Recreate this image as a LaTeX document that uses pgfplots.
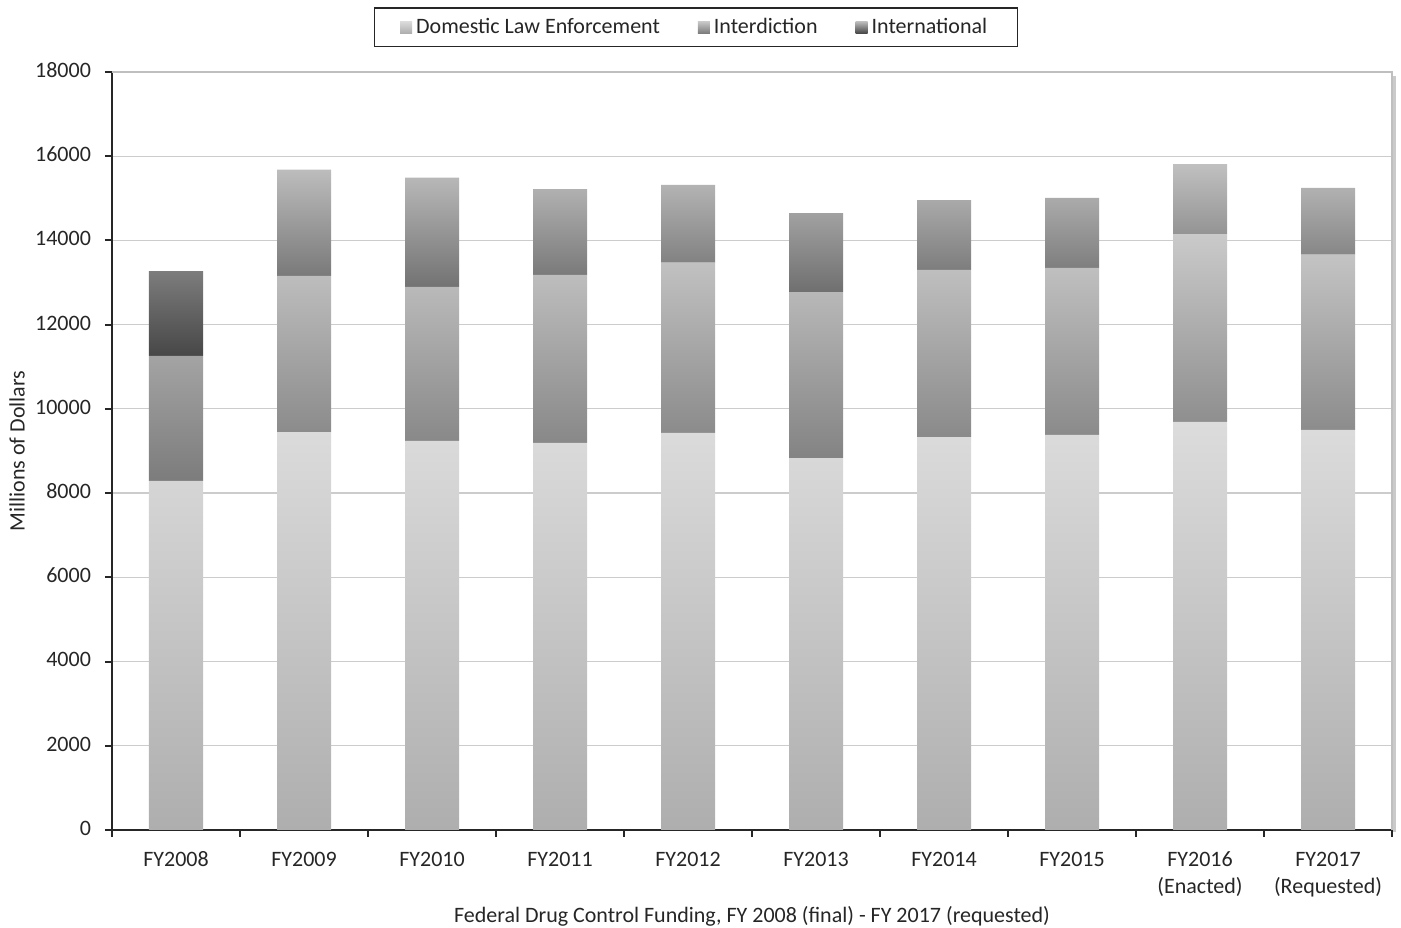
\documentclass[border=0pt]{standalone}
\usepackage{fontspec}
\setmainfont{Carlito}
\usepackage{pgfplots}
\usepackage{pgfplotstable}
\pgfplotsset{compat=1.18}

\definecolor{txt}{HTML}{262626}
\definecolor{domtop}{HTML}{DCDCDC}
\definecolor{dombot}{HTML}{AEAEAE}
\definecolor{inttop}{HTML}{CACACA}
\definecolor{intbot}{HTML}{7C7C7C}
\definecolor{glotop}{HTML}{C0C0C0}
\definecolor{globot}{HTML}{474747}

% one named shading per series (light at top, dark at bottom)
\pgfdeclareverticalshading{domshade}{100bp}{color(0bp)=(dombot); color(25bp)=(dombot); color(75bp)=(domtop); color(100bp)=(domtop)}
\pgfdeclareverticalshading{intshade}{100bp}{color(0bp)=(intbot); color(25bp)=(intbot); color(75bp)=(inttop); color(100bp)=(inttop)}
\pgfdeclareverticalshading{gloshade}{100bp}{color(0bp)=(globot); color(25bp)=(globot); color(75bp)=(glotop); color(100bp)=(glotop)}

% funding in millions of dollars
\pgfplotstableread{
x dom inter intl
0 8290 2970 2010
1 9450 3710 2520
2 9240 3660 2590
3 9190 3990 2040
4 9430 4040 1850
5 8830 3940 1880
6 9330 3970 1660
7 9380 3970 1660
8 9690 4460 1660
9 9500 4160 1590
}\fundtable

\begin{document}
\begin{tikzpicture}
\begin{axis}[
    name=ax,
    scale only axis,
    width=640pt, height=379pt,
    ybar stacked,
    bar width=27pt,
    xmin=-0.5, xmax=9.5,
    ymin=0, ymax=18000,
    ytick={0,2000,...,18000},
    scaled y ticks=false,
    xtick={0,...,9},
    xticklabels={FY2008,FY2009,FY2010,FY2011,FY2012,FY2013,FY2014,FY2015,{FY2016\\(Enacted)},{FY2017\\(Requested)}},
    minor xtick={-0.5,0.5,...,9.5},
    major x tick style={draw=none},
    minor x tick style={txt, line width=1pt},
    major y tick style={txt, line width=1pt},
    major tick length=3.5pt,
    minor tick length=3.5pt,
    tick align=outside,
    axis x line*=bottom,
    axis y line*=left,
    axis line style={txt, line width=1pt, -},
    ymajorgrids,
    major grid style={black!20, line width=0.6pt},
    /pgf/number format/.cd, 1000 sep={}, assume math mode=true,
    /pgfplots/.cd,
    tick label style={font=\fontsize{11}{13.5}\selectfont, text=txt},
    typeset ticklabels with strut,
    xticklabel style={align=center, yshift=-2pt},
    yticklabel style={xshift=-3.5pt},
    xlabel={Federal Drug Control Funding, FY 2008 (final) - FY 2017 (requested)},
    ylabel={Millions of Dollars},
    label style={font=\fontsize{11}{13.5}\selectfont, text=txt},
    xlabel style={at={(axis description cs:0.5,-0.1135)}, anchor=center},
    ylabel style={at={(axis description cs:-0.0742,0.5)}, anchor=center},
    legend columns=3,
    legend style={at={(0.456,1.033)}, anchor=south, draw=txt, line width=0.6pt,
        font=\fontsize{11}{13.5}\selectfont, text=txt, inner xsep=13pt, inner ysep=3pt,
        /tikz/every even column/.append style={column sep=17pt}},
    legend image code/.code={\path[#1] (0pt,-3pt) rectangle (6pt,3pt);},
    clip=false,
]
\addplot[shade, shading=domshade, draw=none] table[x=x, y=dom] {\fundtable};
\addplot[shade, shading=intshade, draw=none] table[x=x, y=inter] {\fundtable};
\addplot[shade, shading=gloshade, draw=none] table[x=x, y=intl] {\fundtable};
\legend{Domestic Law Enforcement, Interdiction, International}
\draw[black!25, line width=0.7pt] (rel axis cs:0,1) -- (rel axis cs:1,1) -- (rel axis cs:1,0);
\draw[black!35, line width=1.6pt, opacity=0.6] ([xshift=1.3pt]rel axis cs:1,0.995) -- ([xshift=1.3pt,yshift=-1pt]rel axis cs:1,0);
\end{axis}
\pgfresetboundingbox
\path[use as bounding box] ([shift={(-56pt,-49pt)}]ax.south west) rectangle ([shift={(4.5pt,36pt)}]ax.north east);
\end{tikzpicture}
\end{document}
